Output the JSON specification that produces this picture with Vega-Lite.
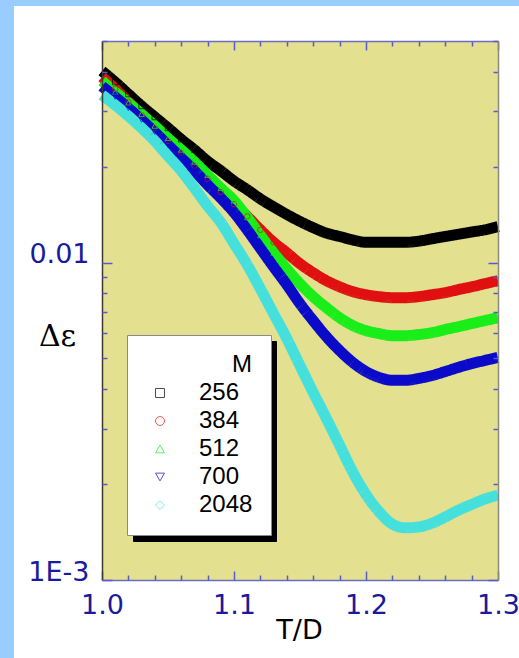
{
  "$schema": "https://vega.github.io/schema/vega-lite/v6.json",
  "width": 505,
  "height": 652,
  "autosize": {"type": "none"},
  "padding": {"left": 14, "top": 6, "right": 0, "bottom": 0},
  "background": "#99ccff",
  "config": {
    "view": {"fill": "white", "stroke": null},
    "font": "Liberation Sans",
    "axis": {"grid": false}
  },
  "data": {
    "values": [
      {"T": 1.00, "M": 256, "dEps": 0.0402}, {"T": 1.01, "M": 256, "dEps": 0.0371}, {"T": 1.02, "M": 256, "dEps": 0.0340}, {"T": 1.03, "M": 256, "dEps": 0.0312},
      {"T": 1.04, "M": 256, "dEps": 0.0288}, {"T": 1.05, "M": 256, "dEps": 0.0266}, {"T": 1.06, "M": 256, "dEps": 0.0245}, {"T": 1.07, "M": 256, "dEps": 0.0227},
      {"T": 1.08, "M": 256, "dEps": 0.0209}, {"T": 1.09, "M": 256, "dEps": 0.0195}, {"T": 1.10, "M": 256, "dEps": 0.0181}, {"T": 1.11, "M": 256, "dEps": 0.0170},
      {"T": 1.12, "M": 256, "dEps": 0.0159}, {"T": 1.13, "M": 256, "dEps": 0.0150}, {"T": 1.14, "M": 256, "dEps": 0.0142}, {"T": 1.15, "M": 256, "dEps": 0.0135},
      {"T": 1.16, "M": 256, "dEps": 0.0129}, {"T": 1.17, "M": 256, "dEps": 0.0124}, {"T": 1.18, "M": 256, "dEps": 0.0121}, {"T": 1.19, "M": 256, "dEps": 0.0118},
      {"T": 1.20, "M": 256, "dEps": 0.0116}, {"T": 1.21, "M": 256, "dEps": 0.0116}, {"T": 1.22, "M": 256, "dEps": 0.0116}, {"T": 1.23, "M": 256, "dEps": 0.0116},
      {"T": 1.24, "M": 256, "dEps": 0.0117}, {"T": 1.25, "M": 256, "dEps": 0.0119}, {"T": 1.26, "M": 256, "dEps": 0.0121}, {"T": 1.27, "M": 256, "dEps": 0.0123},
      {"T": 1.28, "M": 256, "dEps": 0.0125}, {"T": 1.29, "M": 256, "dEps": 0.0127}, {"T": 1.30, "M": 256, "dEps": 0.0130},

      {"T": 1.00, "M": 384, "dEps": 0.0385}, {"T": 1.01, "M": 384, "dEps": 0.0353}, {"T": 1.02, "M": 384, "dEps": 0.0321}, {"T": 1.03, "M": 384, "dEps": 0.0292},
      {"T": 1.04, "M": 384, "dEps": 0.0266}, {"T": 1.05, "M": 384, "dEps": 0.0242}, {"T": 1.06, "M": 384, "dEps": 0.0222}, {"T": 1.07, "M": 384, "dEps": 0.0202},
      {"T": 1.08, "M": 384, "dEps": 0.0184}, {"T": 1.09, "M": 384, "dEps": 0.0167}, {"T": 1.10, "M": 384, "dEps": 0.0153}, {"T": 1.11, "M": 384, "dEps": 0.0140},
      {"T": 1.12, "M": 384, "dEps": 0.0127}, {"T": 1.13, "M": 384, "dEps": 0.0116}, {"T": 1.14, "M": 384, "dEps": 0.01075}, {"T": 1.15, "M": 384, "dEps": 0.00993},
      {"T": 1.16, "M": 384, "dEps": 0.00930}, {"T": 1.17, "M": 384, "dEps": 0.00878}, {"T": 1.18, "M": 384, "dEps": 0.00840}, {"T": 1.19, "M": 384, "dEps": 0.00811},
      {"T": 1.20, "M": 384, "dEps": 0.00793}, {"T": 1.21, "M": 384, "dEps": 0.00782}, {"T": 1.22, "M": 384, "dEps": 0.00776}, {"T": 1.23, "M": 384, "dEps": 0.00776},
      {"T": 1.24, "M": 384, "dEps": 0.00782}, {"T": 1.25, "M": 384, "dEps": 0.00793}, {"T": 1.26, "M": 384, "dEps": 0.00805}, {"T": 1.27, "M": 384, "dEps": 0.00823},
      {"T": 1.28, "M": 384, "dEps": 0.00840}, {"T": 1.29, "M": 384, "dEps": 0.00859}, {"T": 1.30, "M": 384, "dEps": 0.00878},

      {"T": 1.00, "M": 512, "dEps": 0.0374}, {"T": 1.01, "M": 512, "dEps": 0.0345}, {"T": 1.02, "M": 512, "dEps": 0.0319}, {"T": 1.03, "M": 512, "dEps": 0.0294},
      {"T": 1.04, "M": 512, "dEps": 0.0270}, {"T": 1.05, "M": 512, "dEps": 0.0247}, {"T": 1.06, "M": 512, "dEps": 0.0227}, {"T": 1.07, "M": 512, "dEps": 0.0208},
      {"T": 1.08, "M": 512, "dEps": 0.0189}, {"T": 1.09, "M": 512, "dEps": 0.0172}, {"T": 1.10, "M": 512, "dEps": 0.0157}, {"T": 1.11, "M": 512, "dEps": 0.0139},
      {"T": 1.12, "M": 512, "dEps": 0.0122}, {"T": 1.13, "M": 512, "dEps": 0.01075}, {"T": 1.14, "M": 512, "dEps": 0.00957}, {"T": 1.15, "M": 512, "dEps": 0.00859},
      {"T": 1.16, "M": 512, "dEps": 0.00782}, {"T": 1.17, "M": 512, "dEps": 0.00722}, {"T": 1.18, "M": 512, "dEps": 0.00671}, {"T": 1.19, "M": 512, "dEps": 0.00634},
      {"T": 1.20, "M": 512, "dEps": 0.00611}, {"T": 1.21, "M": 512, "dEps": 0.00598}, {"T": 1.22, "M": 512, "dEps": 0.00589}, {"T": 1.23, "M": 512, "dEps": 0.00589},
      {"T": 1.24, "M": 512, "dEps": 0.00594}, {"T": 1.25, "M": 512, "dEps": 0.00602}, {"T": 1.26, "M": 512, "dEps": 0.00616}, {"T": 1.27, "M": 512, "dEps": 0.00629},
      {"T": 1.28, "M": 512, "dEps": 0.00643}, {"T": 1.29, "M": 512, "dEps": 0.00657}, {"T": 1.30, "M": 512, "dEps": 0.00671},

      {"T": 1.00, "M": 700, "dEps": 0.0360}, {"T": 1.01, "M": 700, "dEps": 0.0333}, {"T": 1.02, "M": 700, "dEps": 0.0307}, {"T": 1.03, "M": 700, "dEps": 0.0282},
      {"T": 1.04, "M": 700, "dEps": 0.0258}, {"T": 1.05, "M": 700, "dEps": 0.0235}, {"T": 1.06, "M": 700, "dEps": 0.0214}, {"T": 1.07, "M": 700, "dEps": 0.0195},
      {"T": 1.08, "M": 700, "dEps": 0.0176}, {"T": 1.09, "M": 700, "dEps": 0.0160}, {"T": 1.10, "M": 700, "dEps": 0.0144}, {"T": 1.11, "M": 700, "dEps": 0.0127},
      {"T": 1.12, "M": 700, "dEps": 0.0111}, {"T": 1.13, "M": 700, "dEps": 0.00971}, {"T": 1.14, "M": 700, "dEps": 0.00853}, {"T": 1.15, "M": 700, "dEps": 0.00743},
      {"T": 1.16, "M": 700, "dEps": 0.00657}, {"T": 1.17, "M": 700, "dEps": 0.00585}, {"T": 1.18, "M": 700, "dEps": 0.00529}, {"T": 1.19, "M": 700, "dEps": 0.00485},
      {"T": 1.20, "M": 700, "dEps": 0.00454}, {"T": 1.21, "M": 700, "dEps": 0.00435}, {"T": 1.22, "M": 700, "dEps": 0.00426}, {"T": 1.23, "M": 700, "dEps": 0.00426},
      {"T": 1.24, "M": 700, "dEps": 0.00432}, {"T": 1.25, "M": 700, "dEps": 0.00441}, {"T": 1.26, "M": 700, "dEps": 0.00454}, {"T": 1.27, "M": 700, "dEps": 0.00468},
      {"T": 1.28, "M": 700, "dEps": 0.00481}, {"T": 1.29, "M": 700, "dEps": 0.00492}, {"T": 1.30, "M": 700, "dEps": 0.00503},

      {"T": 1.00, "M": 2048, "dEps": 0.0338}, {"T": 1.01, "M": 2048, "dEps": 0.0314}, {"T": 1.02, "M": 2048, "dEps": 0.0290}, {"T": 1.03, "M": 2048, "dEps": 0.0266},
      {"T": 1.04, "M": 2048, "dEps": 0.0242}, {"T": 1.05, "M": 2048, "dEps": 0.0217}, {"T": 1.06, "M": 2048, "dEps": 0.0195}, {"T": 1.07, "M": 2048, "dEps": 0.0172},
      {"T": 1.08, "M": 2048, "dEps": 0.0151}, {"T": 1.09, "M": 2048, "dEps": 0.0134}, {"T": 1.10, "M": 2048, "dEps": 0.0115}, {"T": 1.11, "M": 2048, "dEps": 0.00986},
      {"T": 1.12, "M": 2048, "dEps": 0.00828}, {"T": 1.13, "M": 2048, "dEps": 0.00691}, {"T": 1.14, "M": 2048, "dEps": 0.00577}, {"T": 1.15, "M": 2048, "dEps": 0.00474},
      {"T": 1.16, "M": 2048, "dEps": 0.00390}, {"T": 1.17, "M": 2048, "dEps": 0.00323}, {"T": 1.18, "M": 2048, "dEps": 0.00266}, {"T": 1.19, "M": 2048, "dEps": 0.00219},
      {"T": 1.20, "M": 2048, "dEps": 0.00186}, {"T": 1.21, "M": 2048, "dEps": 0.00164}, {"T": 1.22, "M": 2048, "dEps": 0.00150}, {"T": 1.23, "M": 2048, "dEps": 0.00146},
      {"T": 1.24, "M": 2048, "dEps": 0.00147}, {"T": 1.25, "M": 2048, "dEps": 0.00151}, {"T": 1.26, "M": 2048, "dEps": 0.00158}, {"T": 1.27, "M": 2048, "dEps": 0.00166},
      {"T": 1.28, "M": 2048, "dEps": 0.00173}, {"T": 1.29, "M": 2048, "dEps": 0.00180}, {"T": 1.30, "M": 2048, "dEps": 0.00185}
    ]
  },
  "layer": [
    {
      "data": {"values": [{}]},
      "mark": {"type": "rect", "fill": "#e3e08f"},
      "encoding": {
        "x": {"datum": 1.0, "type": "quantitative", "axis": null},
        "x2": {"datum": 1.3},
        "y": {"datum": 0.001, "type": "quantitative", "axis": null},
        "y2": {"datum": 0.05}
      }
    },
    {
      "mark": {"type": "line", "strokeWidth": 11, "interpolate": "monotone"},
      "encoding": {
        "x": {
          "field": "T", "type": "quantitative",
          "scale": {"domain": [1.0, 1.3], "range": [88, 484], "nice": false, "zero": false},
          "axis": {
            "orient": "bottom", "offset": -78, "zindex": 1, "values": [1.0, 1.1, 1.2, 1.3], "format": ".1f",
            "ticks": false, "domain": true, "domainColor": "#6c6cc0", "domainWidth": 1.5,
            "labelFont": "DejaVu Sans", "labelFontSize": 27, "labelColor": "#1a1a9c", "labelPadding": 12,
            "labelFlush": false, "labelOverlap": false, "labelBound": false,
            "title": "T/D", "titleFont": "DejaVu Sans", "titleFontSize": 27, "titleFontWeight": "normal", "titleColor": "black",
            "titleX": 285, "titleY": 58, "titleBaseline": "alphabetic", "titleAlign": "center"
          }
        },
        "y": {
          "field": "dEps", "type": "quantitative",
          "scale": {"type": "log", "domain": [0.001, 0.05], "range": [574, 35], "nice": false},
          "axis": {
            "orient": "left", "offset": -88, "zindex": 1, "values": [0.001, 0.01],
            "labelExpr": "datum.value > 0.005 ? '0.01' : '1E-3'",
            "ticks": false, "domain": true, "domainColor": "#3c3c30", "domainWidth": 1.5,
            "labelFont": "DejaVu Sans", "labelFontSize": 27, "labelColor": "#1a1a9c", "labelPadding": 13,
            "labelBaseline": "alphabetic", "labelOverlap": false, "labelBound": false, "labelFlush": false,
            "title": "Δε", "titleAngle": 0, "titleX": -45, "titleY": 339,
            "titleAlign": "center", "titleBaseline": "alphabetic",
            "titleFont": "DejaVu Serif", "titleFontSize": 30, "titleFontWeight": "normal", "titleColor": "black"
          }
        },
        "color": {
          "field": "M", "type": "ordinal",
          "scale": {"domain": [256, 384, 512, 700, 2048], "range": ["#000000", "#e01010", "#19ee19", "#0a0ac8", "#45e0dc"]},
          "legend": {
            "orient": "none", "legendX": 113, "legendY": 329, "title": "M\u00a0\u00a0\u00a0",
            "titleFontSize": 24, "titleFontWeight": "normal", "titleColor": "black", "titleAnchor": "end", "titlePadding": 4,
            "labelFontSize": 24, "labelColor": "black", "labelOffset": 27,
            "symbolSize": 80, "symbolStrokeWidth": 1, "symbolOffset": 3, "rowPadding": 4, "padding": 18,
            "fillColor": "white", "strokeColor": "#8a8a8a", "zindex": 2
          }
        },
        "strokeDash": {
          "field": "M", "type": "ordinal",
          "scale": {"range": [[1, 0], [1, 0], [1, 0], [1, 0], [1, 0]]},
          "legend": {
            "orient": "none", "legendX": 119, "legendY": 335, "title": null,
            "labelExpr": "''", "labelFontSize": 24, "labelOffset": 80,
            "symbolType": "square", "symbolSize": 80, "symbolStrokeWidth": 1, "symbolOffset": 3, "rowPadding": 11, "padding": 18,
            "symbolStrokeColor": "black", "symbolFillColor": "black",
            "fillColor": "black", "strokeColor": "black", "zindex": 1
          }
        }
      }
    },
    {
      "transform": [{"filter": "datum.T > 1.005 && datum.T < 1.295"}],
      "mark": {"type": "point", "filled": false, "size": 30, "strokeWidth": 1},
      "encoding": {
        "x": {
          "field": "T", "type": "quantitative",
          "axis": {
            "orient": "bottom", "offset": -78, "zindex": 1,
            "values": [1.0, 1.02, 1.04, 1.06, 1.08, 1.1, 1.12, 1.14, 1.16, 1.18, 1.2, 1.22, 1.24, 1.26, 1.28, 1.3],
            "labels": false, "domain": false, "title": null,
            "tickColor": "#5a5ad0", "tickWidth": 1.5,
            "tickSize": {"condition": {"test": "abs(datum.value * 10 - round(datum.value * 10)) < 0.001", "value": -9}, "value": -5}
          }
        },
        "y": {
          "field": "dEps", "type": "quantitative",
          "axis": {
            "orient": "left", "offset": -88, "zindex": 1,
            "values": [0.001, 0.002, 0.003, 0.004, 0.005, 0.006, 0.007, 0.008, 0.009, 0.01, 0.02, 0.03, 0.04, 0.05],
            "labels": false, "domain": false, "title": null,
            "tickColor": "#5a5ad0", "tickWidth": 1.5,
            "tickSize": {"condition": {"test": "abs(log(datum.value) / LN10 - round(log(datum.value) / LN10)) < 0.001", "value": -10}, "value": -5}
          }
        },
        "color": {
          "field": "M", "type": "ordinal",
          "legend": {
            "orient": "none", "legendX": 113, "legendY": 329, "title": "M\u00a0\u00a0\u00a0",
            "titleFontSize": 24, "titleFontWeight": "normal", "titleColor": "black", "titleAnchor": "end", "titlePadding": 4,
            "labelFontSize": 24, "labelColor": "black", "labelOffset": 27,
            "symbolSize": 80, "symbolStrokeWidth": 1, "symbolOffset": 3, "rowPadding": 4, "padding": 18,
            "fillColor": "white", "strokeColor": "#8a8a8a", "zindex": 2
          }
        },
        "shape": {
          "field": "M", "type": "ordinal",
          "scale": {"domain": [256, 384, 512, 700, 2048], "range": ["square", "circle", "triangle-up", "triangle-down", "diamond"]},
          "legend": {
            "orient": "none", "legendX": 113, "legendY": 329, "title": "M\u00a0\u00a0\u00a0",
            "titleFontSize": 24, "titleFontWeight": "normal", "titleColor": "black", "titleAnchor": "end", "titlePadding": 4,
            "labelFontSize": 24, "labelColor": "black", "labelOffset": 27,
            "symbolSize": 80, "symbolStrokeWidth": 1, "symbolOffset": 3, "rowPadding": 4, "padding": 18,
            "fillColor": "white", "strokeColor": "#8a8a8a", "zindex": 2
          }
        }
      }
    },
    {
      "mark": {"type": "point", "opacity": 0},
      "encoding": {
        "x": {
          "field": "T", "type": "quantitative",
          "axis": {
            "orient": "top", "offset": -35, "zindex": 1,
            "values": [1.0, 1.02, 1.04, 1.06, 1.08, 1.1, 1.12, 1.14, 1.16, 1.18, 1.2, 1.22, 1.24, 1.26, 1.28, 1.3],
            "labels": false, "domain": true, "domainColor": "#6c6cc0", "domainWidth": 1.5, "title": null,
            "tickColor": "#5a5ad0", "tickWidth": 1.5,
            "tickSize": {"condition": {"test": "abs(datum.value * 10 - round(datum.value * 10)) < 0.001", "value": -9}, "value": -5}
          }
        },
        "y": {
          "field": "dEps", "type": "quantitative",
          "axis": {
            "orient": "right", "offset": -21, "zindex": 1,
            "values": [0.001, 0.002, 0.003, 0.004, 0.005, 0.006, 0.007, 0.008, 0.009, 0.01, 0.02, 0.03, 0.04, 0.05],
            "labels": false, "domain": true, "domainColor": "#8a8a80", "domainWidth": 1.5, "title": null,
            "tickColor": "#5a5ad0", "tickWidth": 1.5,
            "tickSize": {"condition": {"test": "abs(log(datum.value) / LN10 - round(log(datum.value) / LN10)) < 0.001", "value": -10}, "value": -5}
          }
        }
      }
    }
  ],
  "resolve": {"axis": {"x": "independent", "y": "independent"}}
}
